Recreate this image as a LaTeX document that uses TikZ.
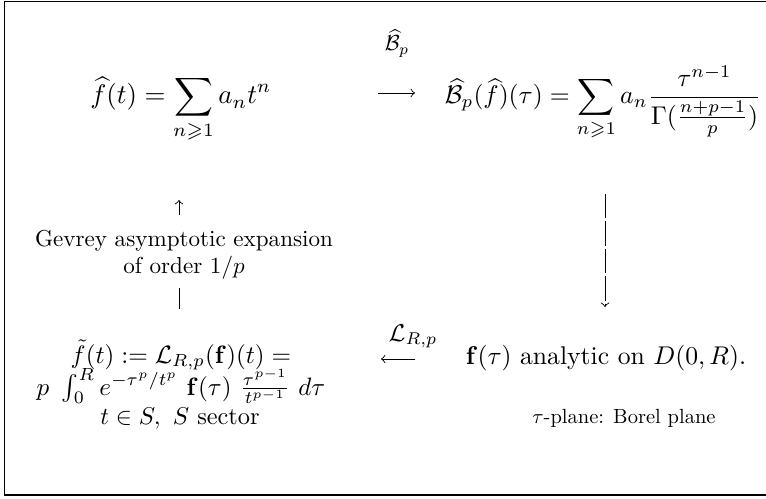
\documentclass[tikz,border=0pt]{standalone}
\usepackage{amsmath,amssymb}
\begin{document}
\begin{tikzpicture}[x=0.39pt,y=-0.39pt,
  frame/.style={line width=0.6pt},
  conn/.style={line width=0.35pt},
  txt/.style={anchor=base,inner sep=0pt,align=center}]
\useasboundingbox (0,0) rectangle (766,499);
\draw[frame] (766,1.5) -- (4.5,1.5) -- (4.5,495) -- (766,495);
% top row
\node[txt,scale=1.05] (tl) at (181,104) {$\displaystyle \widehat f(t)=\sum_{n\geqslant1}a_nt^n$};
\node[txt,scale=1.0] (tr) at (603,104) {$\displaystyle \widehat{\mathcal B}_p(\widehat f)(\tau)=\sum_{n\geqslant1}a_n\frac{\tau^{n-1}}{\Gamma(\frac{n+p-1}{p})}$};
\node[txt,scale=0.85] (bp) at (397,51) {$\widehat{\mathcal B}_p$};
\coordinate (ta1) at (378,93);
\coordinate (ta2) at (415,93);
\draw[conn,->] (ta1) -- (ta2);
% left vertical
\node[txt,scale=0.9] (gev) at (184,274) {Gevrey asymptotic expansion\\of order $1/p$};
\coordinate (lu1) at (179,215);
\coordinate (lu2) at (179,200);
\coordinate (lb1) at (179,309);
\coordinate (lb2) at (179,288);
\draw[conn,->] (lu1) -- (lu2);
\draw[conn] (lb1) -- (lb2);
% right vertical
\coordinate (rv1) at (605,194);
\coordinate (rv2) at (605,307);
\draw[conn,->,dash pattern=on 9.5pt off 1.2pt] (rv1) -- (rv2);
% bottom row
\node[txt,scale=0.98] (bl) at (181,395) {$\tilde f(t):=\mathcal L_{R,p}(\mathbf f)(t)=$\\[-1.5pt]$p\ \int_0^R e^{-\tau^p/t^p}\ \mathbf f(\tau)\ \frac{\tau^{p-1}}{t^{p-1}}\ d\tau$};
\node[txt] (br) at (606,364) {$\mathbf f(\tau)$ analytic on $D(0,R)$.};
\node[txt,scale=0.95] (lrp) at (413,341) {$\mathcal L_{R,p}$};
\coordinate (ba1) at (415,359);
\coordinate (ba2) at (381,359);
\draw[conn,->] (ba1) -- (ba2);
\node[txt,scale=0.95] (sec) at (180,424) {$t\in S,\ S$ sector};
\node[txt,scale=0.8] (bor) at (624,423) {$\tau$-plane: Borel plane};
\end{tikzpicture}
\end{document}
